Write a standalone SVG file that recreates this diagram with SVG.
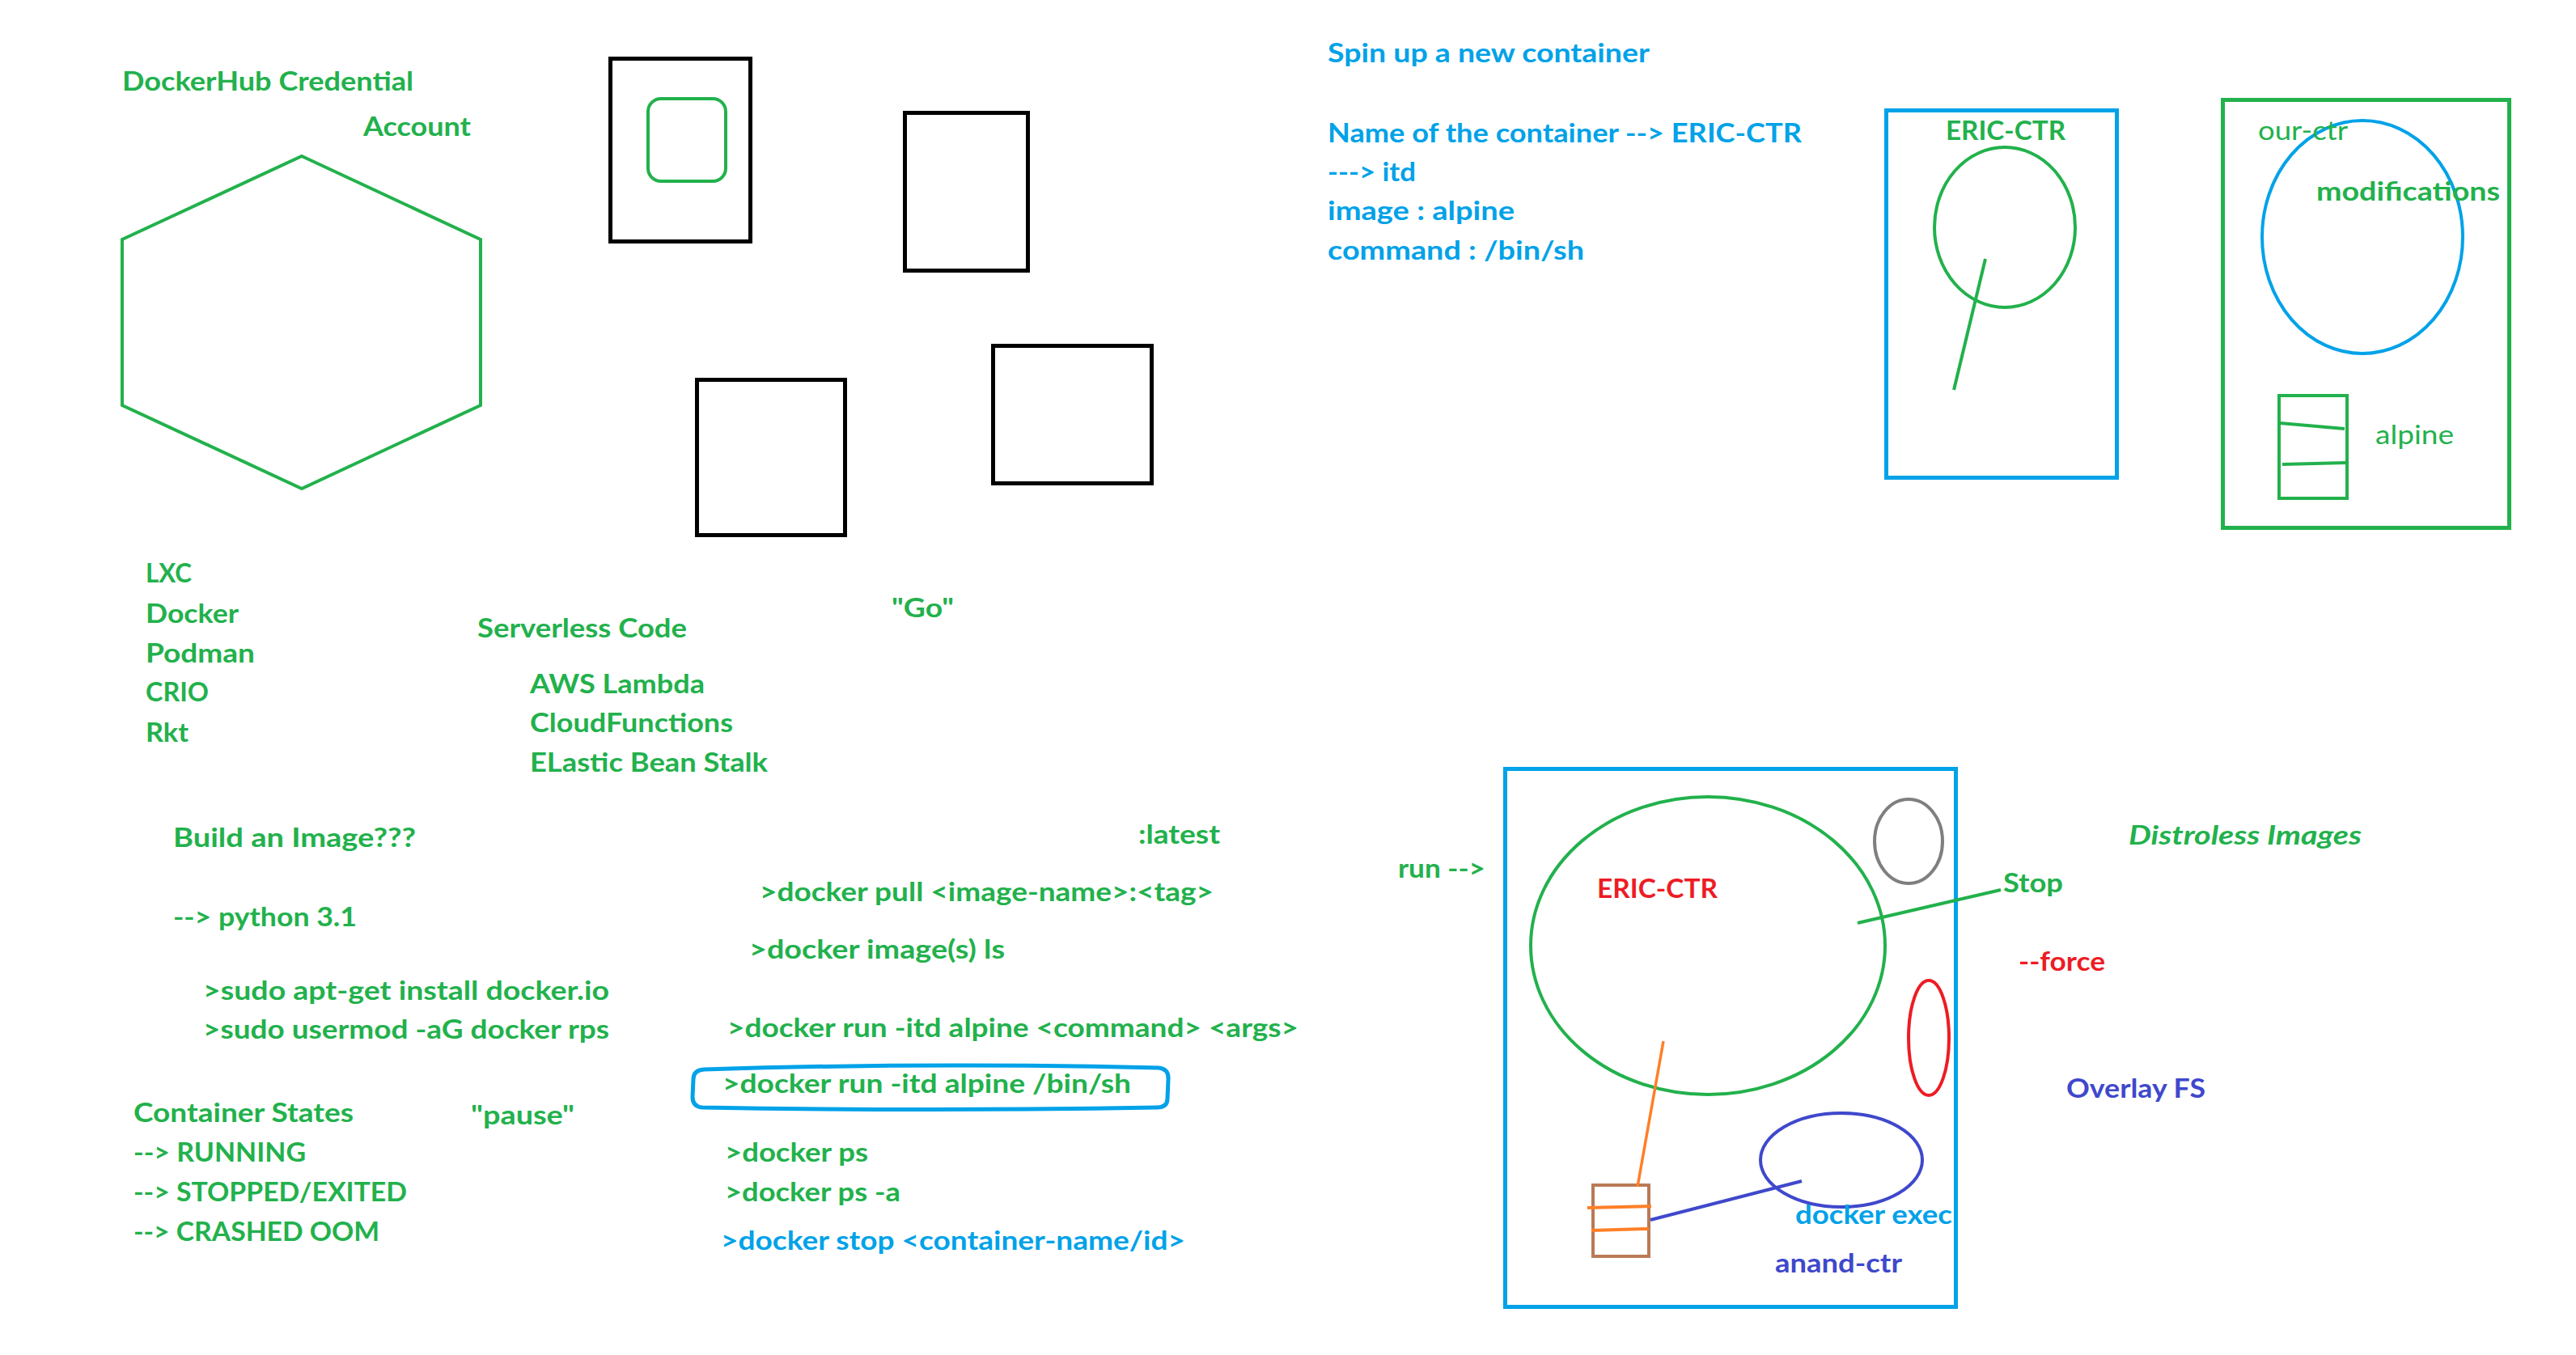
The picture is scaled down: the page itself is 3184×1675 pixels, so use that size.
<svg xmlns="http://www.w3.org/2000/svg" width="3184" height="1675" viewBox="0 0 3184 1675">
<style>
text{font-family:Lato,"Open Sans","Liberation Sans",sans-serif;font-size:33px;font-weight:bold}
.g{fill:#22B14C}.b{fill:#00A2E8}.r{fill:#ED1C24}.i{fill:#3F48CC}
.reg{font-weight:normal}.it{font-style:italic}
.s{fill:none;stroke-width:4}
.k{fill:none;stroke:#000;stroke-width:5}
.sg{stroke:#22B14C}.sb{stroke:#00A2E8}.sr{stroke:#ED1C24}.si{stroke:#3F48CC}.so{stroke:#FF7F27}.sn{stroke:#B97A57}.sy{stroke:#7F7F7F}
</style>
<rect width="3184" height="1675" fill="#fff"/>

<g id="hexagon"><polygon class="s sg" points="373,193 594,296 594,501 373,604 151,501 151,296"/></g>
<g id="box1"><rect class="k" x="754.5" y="72.5" width="173" height="226"/><rect class="s sg" x="801" y="122" width="96" height="102" rx="16"/></g>
<g id="box2"><rect class="k" x="1118.5" y="139.5" width="152" height="195"/></g>
<g id="box3"><rect class="k" x="861.5" y="469.5" width="183" height="192"/></g>
<g id="box4"><rect class="k" x="1227.5" y="427.5" width="196" height="170"/></g>

<g id="eric-ctr-top">
<rect class="s sb" style="stroke-width:5" x="2331.5" y="136.5" width="285" height="454"/>
<ellipse class="s sg" cx="2478" cy="281" rx="87" ry="99"/>
</g>
<g id="our-ctr">
<rect class="s sg" style="stroke-width:5" x="2747.5" y="123.5" width="354" height="529"/>
<ellipse class="s sb" cx="2920" cy="293" rx="124" ry="144"/>
<rect class="s sg" x="2817" y="489" width="84" height="127"/>
</g>

<g id="host">
<rect class="s sb" style="stroke-width:5" x="1860.5" y="950.5" width="557" height="665"/>
<ellipse class="s sg" cx="2111" cy="1169" rx="219" ry="184"/>
<ellipse class="s sy" cx="2359" cy="1040" rx="42" ry="52"/>
<ellipse class="s sr" cx="2384" cy="1283" rx="25" ry="71"/>
<ellipse class="s si" cx="2276" cy="1434" rx="100" ry="58"/>
<rect class="s sn" x="1969" y="1465" width="69" height="88"/>
</g>

<g id="cmd-highlight"><path class="s sb" style="stroke-width:5" d="M870,1322 Q1150,1313 1432,1320 Q1445,1321 1444,1335 L1443,1358 Q1443,1369 1430,1369 Q1150,1374 868,1369 Q856,1368 856,1356 L857,1334 Q857,1323 870,1322 Z"/></g>

<g id="connectors">
<line class="s sg" x1="2454" y1="320" x2="2415" y2="482"/>
<line class="s sg" x1="2818" y1="523" x2="2898" y2="530"/>
<line class="s sg" x1="2821" y1="574" x2="2900" y2="572"/>
<line class="s sg" x1="2296" y1="1141" x2="2473" y2="1100"/>
<line class="s so" style="stroke-width:3.5" x1="2056" y1="1287" x2="2024" y2="1467"/>
<line class="s so" x1="1962" y1="1493" x2="2041" y2="1491"/>
<line class="s so" x1="1967" y1="1521" x2="2038" y2="1519"/>
<line class="s si" x1="2040" y1="1508" x2="2227" y2="1460"/>
</g>

<g id="labels">
<text class="g" x="151" y="112" textLength="360" lengthAdjust="spacingAndGlyphs">DockerHub Credential</text>
<text class="g" x="449" y="168" textLength="133" lengthAdjust="spacingAndGlyphs">Account</text>
<text class="g" x="180" y="720" textLength="57" lengthAdjust="spacingAndGlyphs">LXC</text>
<text class="g" x="180" y="770" textLength="115" lengthAdjust="spacingAndGlyphs">Docker</text>
<text class="g" x="180" y="819" textLength="135" lengthAdjust="spacingAndGlyphs">Podman</text>
<text class="g" x="180" y="867" textLength="78" lengthAdjust="spacingAndGlyphs">CRIO</text>
<text class="g" x="180" y="917" textLength="53" lengthAdjust="spacingAndGlyphs">Rkt</text>
<text class="g" x="590" y="788" textLength="259" lengthAdjust="spacingAndGlyphs">Serverless Code</text>
<text class="g" x="655" y="857" textLength="216" lengthAdjust="spacingAndGlyphs">AWS Lambda</text>
<text class="g" x="655" y="905" textLength="251" lengthAdjust="spacingAndGlyphs">CloudFunctions</text>
<text class="g" x="655" y="954" textLength="294" lengthAdjust="spacingAndGlyphs">ELastic Bean Stalk</text>
<text class="g" x="1102" y="763" textLength="77" lengthAdjust="spacingAndGlyphs">"Go"</text>
<text class="g" x="214" y="1047" textLength="300" lengthAdjust="spacingAndGlyphs">Build an Image???</text>
<text class="g" x="214" y="1145" textLength="227" lengthAdjust="spacingAndGlyphs">--&gt; python 3.1</text>
<text class="g" x="251" y="1236" textLength="502" lengthAdjust="spacingAndGlyphs">&gt;sudo apt-get install docker.io</text>
<text class="g" x="251" y="1284" textLength="502" lengthAdjust="spacingAndGlyphs">&gt;sudo usermod -aG docker rps</text>
<text class="g" x="165" y="1387" textLength="272" lengthAdjust="spacingAndGlyphs">Container States</text>
<text class="g" x="165" y="1436" textLength="213" lengthAdjust="spacingAndGlyphs">--&gt; RUNNING</text>
<text class="g" x="165" y="1485" textLength="338" lengthAdjust="spacingAndGlyphs">--&gt; STOPPED/EXITED</text>
<text class="g" x="165" y="1534" textLength="304" lengthAdjust="spacingAndGlyphs">--&gt; CRASHED OOM</text>
<text class="g" x="582" y="1390" textLength="128" lengthAdjust="spacingAndGlyphs">"pause"</text>
<text class="g" x="1407" y="1043" textLength="101" lengthAdjust="spacingAndGlyphs">:latest</text>
<text class="g" x="939" y="1114" textLength="561" lengthAdjust="spacingAndGlyphs">&gt;docker pull &lt;image-name&gt;:&lt;tag&gt;</text>
<text class="g" x="926" y="1185" textLength="316" lengthAdjust="spacingAndGlyphs">&gt;docker image(s) ls</text>
<text class="g" x="899" y="1282" textLength="706" lengthAdjust="spacingAndGlyphs">&gt;docker run -itd alpine &lt;command&gt; &lt;args&gt;</text>
<text class="g" x="893" y="1351" textLength="505" lengthAdjust="spacingAndGlyphs">&gt;docker run -itd alpine /bin/sh</text>
<text class="g" x="896" y="1436" textLength="177" lengthAdjust="spacingAndGlyphs">&gt;docker ps</text>
<text class="g" x="896" y="1485" textLength="217" lengthAdjust="spacingAndGlyphs">&gt;docker ps -a</text>
<text class="b" x="891" y="1545" textLength="574" lengthAdjust="spacingAndGlyphs">&gt;docker stop &lt;container-name/id&gt;</text>
<text class="g" x="1728" y="1085" textLength="108" lengthAdjust="spacingAndGlyphs">run --&gt;</text>
<text class="b" x="1641" y="77" textLength="398" lengthAdjust="spacingAndGlyphs">Spin up a new container</text>
<text class="b" x="1641" y="176" textLength="586" lengthAdjust="spacingAndGlyphs">Name of the container --&gt; ERIC-CTR</text>
<text class="b" x="1641" y="224" textLength="109" lengthAdjust="spacingAndGlyphs">---&gt; itd</text>
<text class="b" x="1641" y="272" textLength="231" lengthAdjust="spacingAndGlyphs">image : alpine</text>
<text class="b" x="1641" y="321" textLength="317" lengthAdjust="spacingAndGlyphs">command : /bin/sh</text>
<text class="g" x="2405" y="173" textLength="148" lengthAdjust="spacingAndGlyphs">ERIC-CTR</text>
<text class="g reg" x="2791" y="173" textLength="111" lengthAdjust="spacingAndGlyphs">our-ctr</text>
<text class="g" x="2863" y="248" textLength="227" lengthAdjust="spacingAndGlyphs">modifications</text>
<text class="g reg" x="2936" y="549" textLength="97" lengthAdjust="spacingAndGlyphs">alpine</text>
<text class="r" x="1974" y="1110" textLength="149" lengthAdjust="spacingAndGlyphs">ERIC-CTR</text>
<text class="g" x="2476" y="1103" textLength="74" lengthAdjust="spacingAndGlyphs">Stop</text>
<text class="r" x="2495" y="1200" textLength="107" lengthAdjust="spacingAndGlyphs">--force</text>
<text class="g it" x="2631" y="1044" textLength="288" lengthAdjust="spacingAndGlyphs">Distroless Images</text>
<text class="i" x="2554" y="1357" textLength="172" lengthAdjust="spacingAndGlyphs">Overlay FS</text>
<text class="b" x="2219" y="1513" textLength="194" lengthAdjust="spacingAndGlyphs">docker exec</text>
<text class="i" x="2194" y="1573" textLength="157" lengthAdjust="spacingAndGlyphs">anand-ctr</text>
</g>
</svg>
